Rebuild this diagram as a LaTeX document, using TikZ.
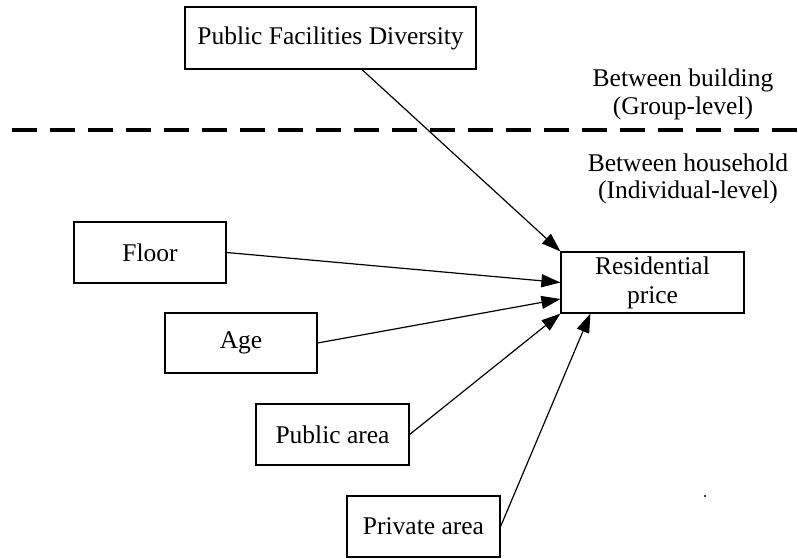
\documentclass[tikz,border=0pt]{standalone}
\usepackage{fontspec}
\setmainfont{Liberation Serif}
\usetikzlibrary{arrows.meta}
\begin{document}
\begin{tikzpicture}[x=1pt,y=-1pt,
  box/.style={draw,line width=1.2pt,inner sep=0pt,align=center,font=\fontsize{25.5}{29}\selectfont},
  lbl/.style={inner sep=0pt,align=center,font=\fontsize{25.5}{29}\selectfont},
  arr/.style={line width=1.2pt,-{Triangle[length=19pt,width=13pt]}}]
\useasboundingbox (0,0) rectangle (798,559);
\node[box,minimum width=291pt,minimum height=62pt] (pfd) at (330.5,38) {Public Facilities Diversity};
\node[box,minimum width=152pt,minimum height=61pt] (floor) at (150,252.5) {Floor};
\node[box,minimum width=152pt,minimum height=60pt] (age) at (241,343) {Age};
\node[box,minimum width=153pt,minimum height=61pt] (pub) at (332.5,434.5) {Public area};
\node[box,minimum width=153pt,minimum height=61pt] (priv) at (423.5,526.5) {Private area};
\node[box,minimum width=183pt,minimum height=61pt] (rp) at (652.5,282.5) {Residential\\price};
\coordinate (dl) at (12,130);
\coordinate (dr) at (798,130);
\draw[line width=3.5pt,dash pattern=on 25pt off 13pt] (dl) -- (dr);
\node[lbl] (bb) at (683,80) {Between building};
\node[lbl] (gl) at (683,108) {(Group-level)};
\node[lbl] (bh) at (688,163) {Between household};
\node[lbl] (il) at (688,192) {(Individual-level)};
\draw[arr] ([xshift=31.5pt]pfd.south) -- (rp.north west);
\draw[arr] (floor.east) -- (rp.west);
\draw[arr] (age.east) -- ([yshift=-16.5pt]rp.west);
\draw[arr] (pub.east) -- (rp.south west);
\draw[arr] (priv.east) -- ([xshift=30pt]rp.south west);
\fill (705,496) circle (1.2pt);
\end{tikzpicture}
\end{document}
